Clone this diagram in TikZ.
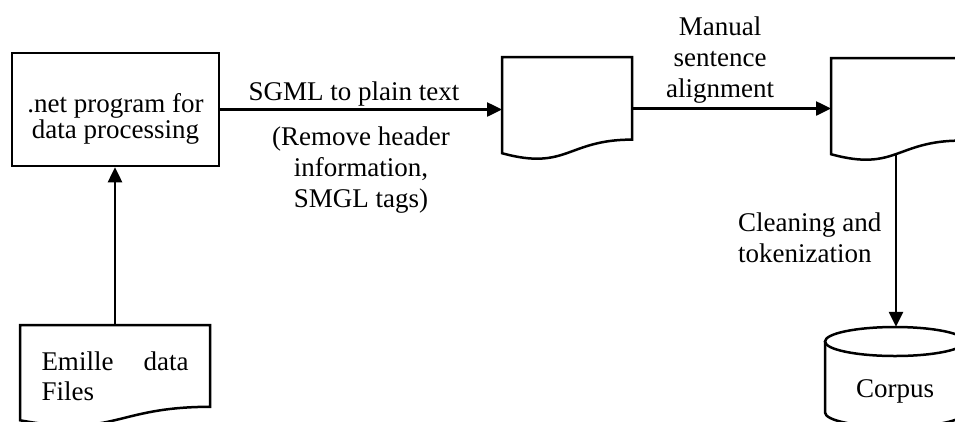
\documentclass[tikz,border=0pt]{standalone}
\usepackage{fontspec}
\setmainfont{Liberation Serif}
\usetikzlibrary{arrows.meta,calc}

\tikzset{
  outline/.style={line width=2.5pt},
  flow/.style={line width=2.5pt, -{Triangle[length=15pt,width=14pt]}},
  lbl/.style={font=\fontsize{27}{31}\selectfont, align=center, inner sep=0pt, anchor=base},
  docspace/.style 2 args={inner sep=0pt, outer sep=0pt, minimum width=#1pt, minimum height=#2pt},
}

% Flowchart "document" outline: flat top, wavy bottom edge
\newcommand\docoutline[1]{%
  \draw[outline] (#1.north west) -- (#1.north east)
    -- ($(#1.north east)!0.802!(#1.south east)$)
    .. controls ($(#1.north)!0.802!(#1.south)$) and ($(#1.north)!1.1075!(#1.south)$)
    .. ($(#1.north west)!0.934!(#1.south west)$) -- cycle;}

\begin{document}
\begin{tikzpicture}[x=1pt,y=-1pt]
\useasboundingbox (0,0) rectangle (955,421);
\clip (0,0) rectangle (955,421);

% processing program (strut lowers the two lines a little)
\node[draw, outline, minimum width=207pt, minimum height=113pt, inner sep=0pt,
      font=\fontsize{27}{24}\selectfont, align=center] (prog) at (115.5,109.5)
      {\rule{0pt}{38pt}.net program for\\data processing};

% input files
\node[docspace={190}{102}, text width=147pt, align=left,
      font=\fontsize{27}{30}\selectfont] (emille) at (115,376)
      {Emille\hfill data\\Files};
\docoutline{emille}

% plain text documents
\node[docspace={130}{103}] (plain) at (567,108.5) {};
\docoutline{plain}
\node[docspace={130}{103}] (aligned) at (896,109.5) {};
\docoutline{aligned}
\coordinate (alignedwave) at ($(aligned.north)!0.933!(aligned.south)$);

% corpus store
\node[inner sep=0pt, minimum width=140pt, minimum height=100pt] (corpus) at (895,377) {};
\draw[outline] (825,341.5) -- (825,412.5)
  arc[start angle=180, end angle=0, x radius=70, y radius=14.5] -- (965,341.5);
\draw[outline] (895,341.5) ellipse[x radius=70, y radius=14.5];
\node[lbl] (corpuslbl) at (895,397) {Corpus};

% connectors
\draw[flow] (emille.north) -- (emille.north |- prog.south);
\draw[flow] (prog.east) -- (prog.east -| plain.west);
\draw[flow] (plain.east) -- (plain.east -| aligned.west);
\draw[flow] (alignedwave) -- (alignedwave |- corpus.north);

% labels (base anchor sits on the last line)
\node[lbl] (sgml) at (354,100) {SGML to plain text};
\node[lbl] (remove) at (361,207) {(Remove header\\information,\\SMGL tags)};
\node[lbl] (manual) at (720,97) {Manual\\sentence\\alignment};
\node[lbl, align=left, anchor=base west] (clean) at (738,262) {Cleaning and\\tokenization};
\end{tikzpicture}
\end{document}
